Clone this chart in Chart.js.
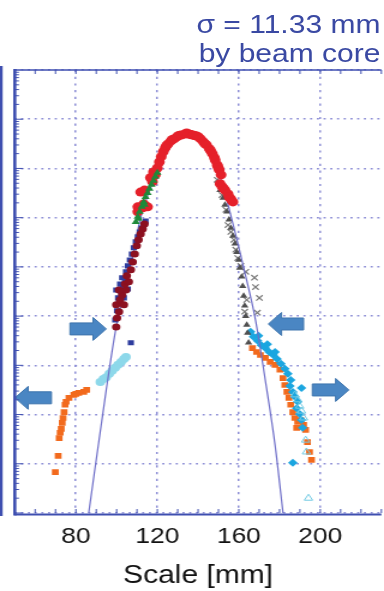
<!DOCTYPE html>
<html>
<head>
<meta charset="utf-8">
<script src="https://cdn.jsdelivr.net/npm/chart.js@4"></script>
<style>
  html, body { margin: 0; padding: 0; background: #fff; overflow: hidden; }
  #wrap { position: relative; width: 323px; height: 591px; transform: scaleX(1.2); transform-origin: 0 0; }
  .note { position: absolute; right: 6px; font: 25px "Liberation Sans", Arial, sans-serif; line-height: 25px; color: #3a49a3; white-space: nowrap; }
</style>
</head>
<body>
<div id="wrap">
  <canvas id="profile" width="323" height="591"></canvas>
  <div class="note" style="top:12px">σ = 11.33 mm</div>
  <div class="note" style="top:41px">by beam core</div>
</div>
<script>
// x = scale position [mm], y = decades above the bottom of the plot (log axis)
const coreX = [119.0, 120.0, 121.0, 121.9, 122.9, 123.9, 124.6, 125.3, 126.7, 127.4, 128.2, 129.6, 130.5, 131.6, 133.5, 134.4, 135.4, 136.4, 137.3, 138.3, 139.3, 140.2, 141.2, 142.6, 143.4, 144.1, 145.5, 146.2, 147.0, 148.0, 148.4, 149.4, 149.9, 150.4, 151.3, 150.8, 151.8, 152.4, 153.2, 154.7, 155.2, 156.1, 157.1, 111.8, 113.7, 110.4, 112.8, 115.2, 110.4, 117.6, 116.6, 118.1, 113.3];
const coreY = [6.87, 7.01, 7.13, 7.24, 7.34, 7.42, 7.47, 7.50, 7.56, 7.59, 7.60, 7.64, 7.67, 7.68, 7.70, 7.72, 7.70, 7.69, 7.68, 7.67, 7.66, 7.64, 7.60, 7.54, 7.50, 7.48, 7.40, 7.36, 7.30, 7.22, 7.17, 7.07, 7.02, 6.97, 6.87, 6.69, 6.63, 6.60, 6.56, 6.48, 6.42, 6.38, 6.32, 6.52, 6.56, 6.22, 6.20, 6.22, 6.12, 6.73, 6.81, 6.93, 6.28];

const greenX = [109.4, 110.4, 110.8, 111.3, 112.3, 113.3, 113.7, 114.2, 115.2, 116.1, 117.1, 118.1, 119.0, 120.0];
const greenY = [5.91, 6.02, 5.98, 6.12, 6.22, 6.32, 6.26, 6.42, 6.50, 6.59, 6.67, 6.75, 6.83, 6.91];

const navyX = [99.3, 100.2, 101.2, 100.7, 102.2, 103.1, 101.7, 104.1, 102.7, 104.6, 105.5, 106.5, 107.5, 108.4, 109.4, 110.4, 111.3, 112.3, 113.3, 114.2, 107.0, 99.8, 103.6, 105.5];
const navyY = [3.92, 4.11, 4.27, 4.37, 4.49, 4.59, 4.65, 4.74, 4.78, 4.90, 5.02, 5.14, 5.26, 5.39, 5.51, 5.61, 5.71, 5.79, 5.87, 5.93, 3.46, 4.53, 4.37, 4.55];

const maroonX = [99.8, 100.2, 101.2, 99.8, 101.7, 103.6, 102.7, 104.6, 101.2, 104.1, 106.0, 105.0, 107.0, 107.9, 108.9, 109.9, 110.8, 111.8, 112.8, 113.7];
const maroonY = [3.78, 3.96, 4.09, 4.23, 4.33, 4.23, 4.43, 4.53, 4.53, 4.65, 4.70, 4.82, 4.94, 5.10, 5.26, 5.43, 5.55, 5.67, 5.77, 5.87];

const grayTriX = [149.9, 150.8, 152.3, 153.2, 154.2, 155.2, 156.1, 157.1, 158.1, 159.0, 160.0, 160.5, 161.4, 161.9, 162.4, 162.9, 163.4, 163.9, 164.3, 164.8];
const grayTriY = [6.71, 6.56, 6.40, 6.26, 6.12, 5.96, 5.79, 5.63, 5.47, 5.30, 5.14, 4.98, 4.80, 4.61, 4.41, 4.21, 4.00, 3.82, 3.66, 3.46];

const grayCrossX = [149.4, 151.8, 153.7, 154.7, 156.1, 157.6, 158.5, 159.5, 161.0, 163.4, 167.7, 168.2, 170.1, 169.1, 162.9, 163.9];
const grayCrossY = [6.77, 6.46, 6.16, 5.85, 5.71, 5.55, 5.35, 5.18, 5.02, 4.90, 4.78, 4.59, 4.37, 4.07, 4.09, 4.33];

const cyanX = [165.8, 167.2, 169.2, 169.7, 171.1, 173.0, 174.0, 174.9, 176.9, 177.8, 178.8, 180.7, 182.6, 184.1, 185.5, 185.1, 186.5, 187.5, 188.9, 188.4, 189.9, 190.8, 191.3, 186.5, 190.8];
const cyanY = [3.68, 3.58, 3.50, 3.60, 3.41, 3.35, 3.43, 3.27, 3.21, 3.27, 3.13, 3.03, 2.93, 2.83, 2.70, 2.58, 2.46, 2.36, 2.26, 2.13, 2.01, 1.89, 1.73, 1.02, 2.54];

const orangeX = [166.7, 168.7, 170.6, 173.0, 175.4, 177.8, 180.2, 181.7, 182.6, 183.6, 184.6, 185.5, 186.5, 187.5, 188.9, 190.4, 191.8, 192.8, 193.7, 194.7, 195.7, 188.4,
                 83.9, 81.4, 79.0, 76.6, 75.2, 74.7, 74.2, 73.7, 73.3, 72.8, 72.3, 71.8, 71.3, 69.9, 85.3, 80.0];
const orangeY = [3.35, 3.27, 3.21, 3.15, 3.07, 3.01, 2.91, 2.74, 2.60, 2.46, 2.34, 2.20, 2.05, 1.93, 1.85, 1.89, 1.79, 1.69, 1.44, 1.24, 1.08, 1.73,
                 2.46, 2.44, 2.40, 2.34, 2.26, 2.20, 2.05, 1.93, 1.83, 1.71, 1.63, 1.52, 1.16, 0.83, 2.50, 2.42];

const paleX = [92.0, 93.5, 94.9, 96.4, 97.8, 99.3, 100.7, 102.2, 103.6, 104.6];
const paleY = [2.66, 2.72, 2.76, 2.83, 2.89, 2.95, 3.01, 3.07, 3.13, 3.17];

const hollowX = [187.5, 188.9, 189.9, 190.8, 191.8, 192.8, 193.2, 194.2];
const hollowY = [2.40, 2.30, 2.17, 2.07, 1.93, 1.48, 1.24, 0.30];

// gaussian fit curve
const fitX = [86.3, 94.9, 99.8, 107.0, 111.8, 120.0, 127.2, 133.5, 141.7, 148.0, 151.3, 156.6, 162.4, 168.2, 173.0, 177.8, 181.7];
const fitY = [0.00, 2.50, 3.78, 5.04, 6.00, 6.93, 7.48, 7.70, 7.60, 7.17, 6.77, 5.96, 4.98, 3.92, 2.70, 1.38, 0.00];

// block arrows: tail, tip (mm) and level (decades)
const arrowTail = [68.0, 77.1, 191.8, 196.1];
const arrowTip = [50.1, 94.9, 174.5, 214.0];
const arrowLevel = [2.34, 3.74, 3.84, 2.50];

const axisBlue = '#3f4fb0';
const gridDots = '#8e8fd6';

const pts = (xs, ys) => xs.map((v, i) => ({ x: v, y: ys[i] }));

const framePlugin = {
  id: 'frame',
  afterDatasetsDraw(chart) {
    const { ctx, scales: { x, y } } = chart;
    ctx.save();
    ctx.fillStyle = '#4a86c3';
    ctx.strokeStyle = '#3d74ad';
    ctx.lineWidth = 1;
    arrowTip.forEach((tip, i) => {
      const x0 = x.getPixelForValue(arrowTail[i]);
      const x1 = x.getPixelForValue(tip);
      const yc = y.getPixelForValue(arrowLevel[i]);
      const head = 11 * Math.sign(x1 - x0);
      ctx.beginPath();
      ctx.moveTo(x0, yc - 6);
      ctx.lineTo(x1 - head, yc - 6);
      ctx.lineTo(x1 - head, yc - 11.5);
      ctx.lineTo(x1, yc);
      ctx.lineTo(x1 - head, yc + 11.5);
      ctx.lineTo(x1 - head, yc + 6);
      ctx.lineTo(x0, yc + 6);
      ctx.closePath();
      ctx.fill();
      ctx.stroke();
    });
    ctx.restore();
  },
  afterDraw(chart) {
    const { ctx, chartArea: a, scales: { x, y } } = chart;
    const line = (x0, y0, x1, y1) => { ctx.beginPath(); ctx.moveTo(x0, y0); ctx.lineTo(x1, y1); ctx.stroke(); };
    ctx.save();
    ctx.strokeStyle = axisBlue;
    ctx.lineWidth = 1.5;
    line(a.left, a.top, a.right, a.top);
    ctx.lineWidth = 2.2;
    line(a.left, a.bottom + 1.5, a.right, a.bottom + 1.5);
    ctx.lineWidth = 2.6;
    line(a.left, a.top - 1, a.left, a.bottom + 2.6);
    // edge of the neighbouring panel
    ctx.lineWidth = 2.2;
    line(1.1, a.top - 4, 1.1, a.bottom + 3);
    ctx.lineWidth = 1;
    for (let v = x.min; v <= x.max; v += 10) {
      const px = x.getPixelForValue(v);
      line(px, a.bottom, px, a.bottom - 4);
      line(px, a.top, px, a.top + 4);
    }
    for (let d = 0; d < 9; d++) {
      for (let k = 1; k <= 9; k++) {
        const py = y.getPixelForValue(d + Math.log10(k));
        line(a.left, py, a.left + (k === 1 ? 7 : 3.5), py);
      }
    }
    ctx.restore();
  }
};

new Chart(document.getElementById('profile'), {
  type: 'scatter',
  data: {
    datasets: [
      { data: pts(greenX, greenY), pointStyle: 'triangle', pointRadius: 4, backgroundColor: '#1e8a3a', borderWidth: 0 },
      { data: pts(coreX, coreY), pointStyle: 'circle', pointRadius: 4.5, backgroundColor: '#e5202a', borderWidth: 0 },
      { data: pts(maroonX, maroonY), pointStyle: 'circle', pointRadius: 3.5, backgroundColor: '#8c1020', borderWidth: 0 },
      { data: pts(navyX, navyY), pointStyle: 'rect', pointRadius: 3.6, backgroundColor: '#2e3d9e', borderWidth: 0 },
      { data: pts(fitX, fitY), showLine: true, cubicInterpolationMode: 'monotone', pointRadius: 0, borderColor: '#6e6ec8', borderWidth: 1.2 },
      { data: pts(grayTriX, grayTriY), pointStyle: 'triangle', pointRadius: 3.6, backgroundColor: '#4f4f4f', borderWidth: 0 },
      { data: pts(grayCrossX, grayCrossY), pointStyle: 'crossRot', pointRadius: 3.8, borderColor: '#7a7a7a', borderWidth: 1.2 },
      { data: pts(hollowX, hollowY), pointStyle: 'triangle', pointRadius: 4, backgroundColor: 'rgba(0,0,0,0)', borderColor: '#74cbe4', borderWidth: 1 },
      { data: pts(cyanX, cyanY), pointStyle: 'rectRot', pointRadius: 4, backgroundColor: '#1ba6e0', borderWidth: 0 },
      { data: pts(orangeX, orangeY), pointStyle: 'rect', pointRadius: 4, backgroundColor: '#f26a1d', borderWidth: 0 },
      { data: pts(paleX, paleY), pointStyle: 'circle', pointRadius: 4, backgroundColor: '#8dd8ea', borderWidth: 0 }
    ]
  },
  options: {
    responsive: false,
    animation: false,
    devicePixelRatio: 1,
    layout: { padding: { left: 12.3, right: 0, top: 70, bottom: 0 } },
    plugins: { legend: { display: false }, tooltip: { enabled: false } },
    scales: {
      x: {
        type: 'linear', min: 50, max: 230,
        afterFit: s => { s.paddingLeft = 0; s.paddingRight = 0; },
        ticks: {
          stepSize: 10, autoSkip: false, maxRotation: 0, padding: 0, color: '#111',
          font: { family: 'Liberation Sans', size: 22 },
          callback: v => (v % 40 === 0 ? String(v) : '')
        },
        grid: { drawTicks: true, tickLength: 11, tickColor: 'rgba(0,0,0,0)', lineWidth: 1.5, color: c => (c.tick && c.tick.value % 40 === 0 ? gridDots : 'rgba(0,0,0,0)') },
        border: { display: false, dash: [2.2, 4.5] },
        title: { display: true, text: 'Scale [mm]', color: '#111', font: { family: 'Liberation Sans', size: 25 }, padding: { top: 10.6, bottom: 0 } }
      },
      y: {
        type: 'linear', min: 0, max: 9,
        ticks: { display: false, stepSize: 1 },
        grid: { drawTicks: false, lineWidth: 1.5, color: gridDots },
        border: { display: false, dash: [1.8, 3.8] }
      }
    }
  },
  plugins: [framePlugin]
});
</script>
</body>
</html>
